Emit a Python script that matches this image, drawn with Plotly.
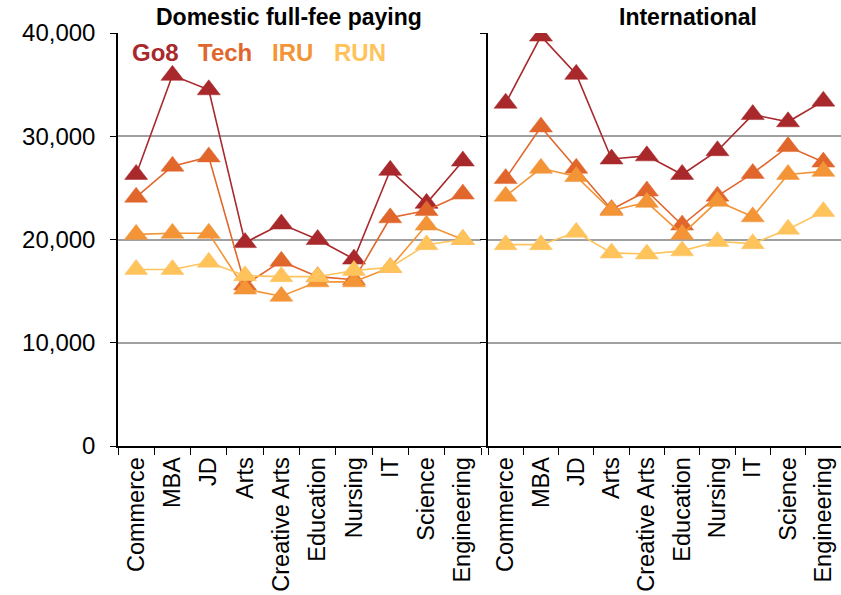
import plotly.graph_objects as go

categories = ["Commerce", "MBA", "JD", "Arts", "Creative Arts", "Education",
              "Nursing", "IT", "Science", "Engineering"]
series_names = ["Go8", "Tech", "IRU", "RUN"]
colors = ["#A8282B", "#E0662C", "#F39437", "#FFC35C"]

domestic_go8 = [26300, 35900, 34500, 19700, 21500, 20000, 18100, 26700, 23500, 27600]
domestic_tech = [24100, 27100, 28000, 15600, 17900, 16400, 16100, 22100, 22800, 24400]
domestic_iru = [20500, 20600, 20600, 15200, 14500, 15900, 15900, 17300, 21400, 20000]
domestic_run = [17100, 17100, 17800, 16500, 16400, 16400, 17000, 17300, 19500, 20000]

intl_go8 = [33200, 39700, 36000, 27800, 28100, 26300, 28600, 32100, 31400, 33400]
intl_tech = [25900, 30900, 26900, 22900, 24700, 21400, 24200, 26400, 29000, 27500]
intl_iru = [24200, 26900, 26100, 22800, 23600, 20500, 23700, 22200, 26300, 26600]
intl_run = [19500, 19500, 20700, 18700, 18600, 18900, 19800, 19600, 21000, 22700]

y_ticks = [0, 10000, 20000, 30000, 40000]
titles = ["Domestic full-fee paying", "International"]

domestic = [domestic_go8, domestic_tech, domestic_iru, domestic_run]
international = [intl_go8, intl_tech, intl_iru, intl_run]

W, H = 841, 595
L, R, T, B = 118, 0, 33, 149
pw, ph = W - L - R, H - T - B

def px(x):
    return (x - L) / pw

def py(y):
    return (H - B - y) / ph

fig = go.Figure()
for name, col, d, i in zip(series_names, colors, domestic, international):
    for vals, xa, ya in [(d, "x", "y"), (i, "x2", "y2")]:
        fig.add_trace(go.Scatter(
            x=categories, y=vals, xaxis=xa, yaxis=ya, mode="lines+markers",
            name=name, showlegend=False,
            line=dict(color=col, width=1.6),
            marker=dict(symbol="triangle-up", size=20, color=col,
                        line=dict(width=0.5, color=col)),
        ))

font = "Liberation Sans, Arial, sans-serif"
xcommon = dict(type="category", categoryorder="array", categoryarray=categories,
               range=[-0.5, 9.5], showline=True, linecolor="black", linewidth=1.5,
               ticks="outside", tickson="boundaries", ticklen=7, tickcolor="black",
               tickwidth=1.2, tickangle=-90, showgrid=False,
               tickfont=dict(family=font, size=23.5, color="black"))
ycommon = dict(range=[0, 40000], tickvals=y_ticks, showline=True, linecolor="black",
               linewidth=1.5, ticks="outside", ticklen=6, tickcolor="black", tickwidth=1.2,
               showgrid=True, gridcolor="#A0A0A0", gridwidth=1.5, zeroline=False,
               tickformat=",", tickfont=dict(family=font, size=24, color="black"))

fig.update_layout(
    width=W, height=H, margin=dict(l=L, r=R, t=T, b=B),
    paper_bgcolor="white", plot_bgcolor="white",
    xaxis=dict(domain=[0, px(481)], anchor="y", **xcommon),
    xaxis2=dict(domain=[px(488), 1.0], anchor="y2", **xcommon),
    yaxis=dict(domain=[0, 1], anchor="x", ticklabelstandoff=10, **ycommon),
    yaxis2=dict(domain=[0, 1], anchor="x2", showticklabels=False, **ycommon),
)

ann = [
    dict(text="<b>%s</b>" % titles[0], x=px(289), y=py(17)),
    dict(text="<b>%s</b>" % titles[1], x=px(688), y=py(17)),
]
legend_x = [155, 225, 292, 360]
for name, col, lx in zip(series_names, colors, legend_x):
    ann.append(dict(text="<b>%s</b>" % name, x=px(lx), y=py(53),
                    font=dict(family=font, size=24, color=col)))
for a in ann:
    a.setdefault("font", dict(family=font, size=23, color="black"))
    fig.add_annotation(xref="paper", yref="paper", showarrow=False,
                       xanchor="center", yanchor="middle", **a)

fig.write_html("out.html", config={"displayModeBar": False},
               post_script="document.body.style.margin='0';")
